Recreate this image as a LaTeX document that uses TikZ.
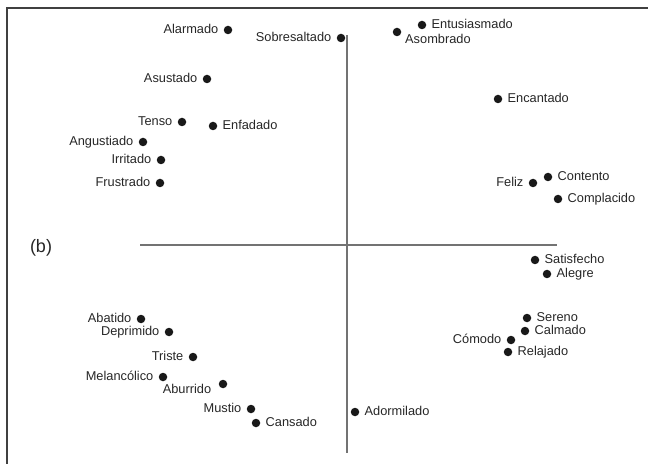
\documentclass[tikz,border=0pt]{standalone}
\usepackage{fontspec}
\setmainfont{Liberation Sans}
\begin{document}
\begin{tikzpicture}[x=1bp,y=-1bp,
  dot/.style={circle,fill=black!90,inner sep=0pt,minimum size=8.5bp},
  lbl/.style={font=\fontsize{12.8bp}{15bp}\selectfont,text=black!85,inner sep=0pt,text height=8.5bp,text depth=1.8bp},
  L/.style={label={[lbl,label distance=5bp]left:#1}},
  R/.style={label={[lbl,label distance=5bp]right:#1}},
  axis/.style={draw=black!55,line width=1.4bp},
  frame/.style={draw=black!75,line width=1.6bp}]
\useasboundingbox (0,0) rectangle (648,464);
% frame (cropped)
\coordinate (fa) at (7,475);
\coordinate (fb) at (7,8);
\coordinate (fc) at (660,8);
\draw[frame] (fa) -- (fb) -- (fc);
% axes
\coordinate (vt) at (347,35);
\coordinate (vb) at (347,453);
\coordinate (hl) at (140,245);
\coordinate (hr) at (557,245);
\draw[axis] (vt) -- (vb);
\draw[axis] (hl) -- (hr);
% label (b)
\node[font=\fontsize{18bp}{20bp}\selectfont,text=black!85,inner sep=0pt] (b) at (41,248) {(b)};
% upper left
\node[dot,L=Alarmado] (alarmado) at (228,30) {};
\node[dot,L=Sobresaltado] (sobresaltado) at (341,38) {};
\node[dot,L=Asustado] (asustado) at (207,79) {};
\node[dot,L=Tenso] (tenso) at (182,122) {};
\node[dot,R=Enfadado] (enfadado) at (213,126) {};
\node[dot,L=Angustiado] (angustiado) at (143,142) {};
\node[dot,L=Irritado] (irritado) at (161,160) {};
\node[dot,L=Frustrado] (frustrado) at (160,183) {};
% upper right
\node[dot,R=Entusiasmado] (entusiasmado) at (422,25) {};
\node[dot] (asombrado) at (397,32) {};
\node[lbl,anchor=west] (asombradol) at (405,40) {Asombrado};
\node[dot,R=Encantado] (encantado) at (498,99) {};
\node[dot,L=Feliz] (feliz) at (533,183) {};
\node[dot,R=Contento] (contento) at (548,177) {};
\node[dot,R=Complacido] (complacido) at (558,199) {};
% lower right
\node[dot,R=Satisfecho] (satisfecho) at (535,260) {};
\node[dot,R=Alegre] (alegre) at (547,274) {};
\node[dot,R=Sereno] (sereno) at (527,318) {};
\node[dot,R=Calmado] (calmado) at (525,331) {};
\node[dot,L=Cómodo] (comodo) at (511,340) {};
\node[dot,R=Relajado] (relajado) at (508,352) {};
\node[dot,R=Adormilado] (adormilado) at (355,412) {};
% lower left
\node[dot,L=Abatido] (abatido) at (141,319) {};
\node[dot,L=Deprimido] (deprimido) at (169,332) {};
\node[dot,L=Triste] (triste) at (193,357) {};
\node[dot,L=Melancólico] (melancolico) at (163,377) {};
\node[dot] (aburrido) at (223,384) {};
\node[lbl] (aburridol) at (187,390) {Aburrido};
\node[dot,L=Mustio] (mustio) at (251,409) {};
\node[dot,R=Cansado] (cansado) at (256,423) {};
\end{tikzpicture}
\end{document}
